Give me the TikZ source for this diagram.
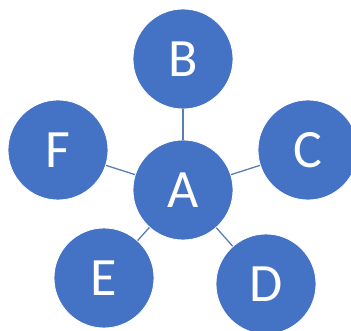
\documentclass[tikz,border=0pt]{standalone}
\usepackage{fontspec}
\setmainfont{Carlito}
\definecolor{nodeblue}{HTML}{4472C4}
\definecolor{edgeblue}{HTML}{5B7CB4}
\begin{document}
\begin{tikzpicture}[x=1pt,y=-1pt,
  bubble/.style={circle,fill=nodeblue,draw=white,line width=0.8pt,minimum size=100pt,inner sep=0pt,text=white,font=\fontsize{54}{64}\selectfont},
  link/.style={draw=edgeblue,line width=1.3pt}]
\useasboundingbox (0,0) rectangle (351,331);
\begin{scope}
\clip (0,0) rectangle (351,331);
\node[bubble] (A) at (183,190) {A};
\node[bubble] (B) at (183,59) {B};
\node[bubble] (C) at (308,150) {C};
\node[bubble] (D) at (266,284) {D};
\node[bubble] (E) at (104,278) {E};
\node[bubble] (F) at (58,150) {F};
\foreach \n in {B,C,D,E,F} \draw[link] (A) -- (\n);
\end{scope}
\end{tikzpicture}
\end{document}
